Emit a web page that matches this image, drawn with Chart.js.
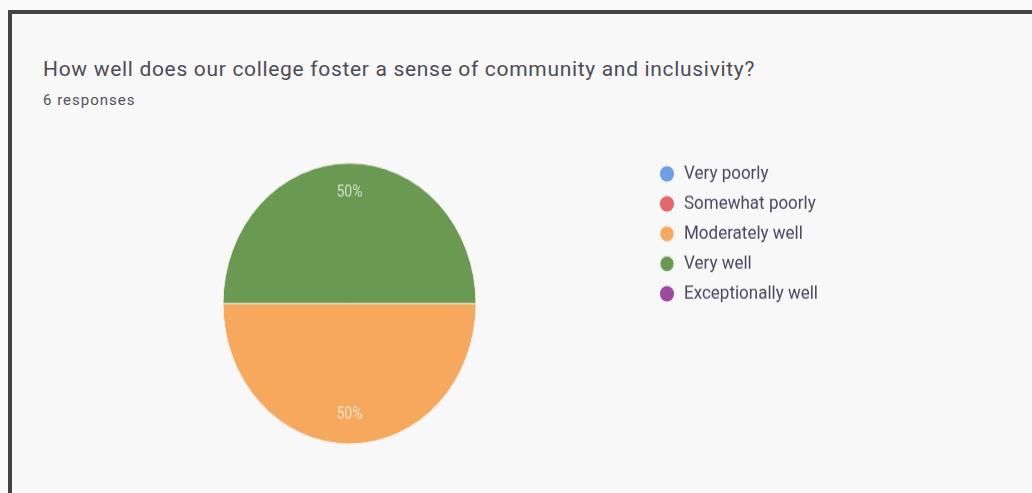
<!DOCTYPE html>
<html>
<head>
<meta charset="utf-8">
<script src="https://cdn.jsdelivr.net/npm/chart.js@4.4.1/dist/chart.umd.min.js"></script>
<style>
  html, body { margin: 0; padding: 0; background: #fafafa; }
  body { width: 1032px; height: 493px; position: relative; overflow: hidden; font-family: Roboto, Arial, sans-serif; }
  #card {
    position: absolute; left: 8px; top: 10px; width: 1040px; height: 500px;
    border-top: 4px solid #444; border-left: 4px solid #444;
    background: #f8f8f8;
  }
  #title { position: absolute; left: 43px; top: 57px; font-size: 21px; letter-spacing: 0.68px; color: #4e4b57; white-space: nowrap; }
  #subtitle { position: absolute; left: 43px; top: 91px; font-size: 15px; letter-spacing: 1px; color: #55525c; }
  #wrap {
    position: absolute; left: 30px; top: 150px; width: 820px; height: 280px;
    transform: scaleY(1.11); transform-origin: 0 0;
  }
</style>
</head>
<body>
<div id="card"></div>
<div id="title">How well does our college foster a sense of community and inclusivity?</div>
<div id="subtitle">6 responses</div>
<div id="wrap"><canvas id="pie"></canvas></div>
<script>
// categories and counts (6 responses)
var categories = ['Very poorly', 'Somewhat poorly', 'Moderately well', 'Very well', 'Exceptionally well'];
var responses = [0, 0, 3, 3, 0];
var sliceColors = ['#6b9fe6', '#e4676a', '#f6a85c', '#6a9a52', '#9b4a9e'];

// draw "50%" style labels inside each slice
var sliceLabels = {
  id: 'sliceLabels',
  afterDatasetsDraw: function(chart) {
    var ctx = chart.ctx;
    var meta = chart.getDatasetMeta(0);
    var total = responses.reduce(function(a, b) { return a + b; }, 0);
    ctx.save();
    ctx.font = '14px Roboto, Arial, sans-serif';
    ctx.fillStyle = 'rgba(255,255,255,0.72)';
    ctx.textAlign = 'center';
    ctx.textBaseline = 'middle';
    meta.data.forEach(function(arc, i) {
      if (!responses[i]) return;
      var mid = (arc.startAngle + arc.endAngle) / 2;
      var r = arc.outerRadius * 0.79;
      var pct = Math.round(responses[i] / total * 100) + '%';
      ctx.fillText(pct, arc.x + Math.cos(mid) * r, arc.y + Math.sin(mid) * r);
    });
    ctx.restore();
  }
};

var ctx = document.getElementById('pie').getContext('2d');
var pieChart = new Chart(ctx, {
  type: 'pie',
  data: {
    labels: categories,
    datasets: [{
      data: responses,
      backgroundColor: sliceColors,
      borderColor: '#f4efe6',
      borderWidth: [0, 0, 1, 1, 0],
      radius: 126.5
    }]
  },
  options: {
    responsive: true,
    maintainAspectRatio: false,
    animation: false,
    rotation: 90,
    layout: { padding: { left: 20.5, right: 22, top: 3, bottom: 6.4 } },
    plugins: {
      legend: {
        position: 'right',
        align: 'start',
        labels: {
          usePointStyle: true,
          pointStyle: 'circle',
          boxWidth: 18,
          boxHeight: 10,
          padding: 10,
          color: '#4b4760',
          font: { family: 'Roboto, Arial, sans-serif', size: 17 }
        }
      },
      tooltip: { enabled: false }
    }
  },
  plugins: [sliceLabels]
});
</script>
</body>
</html>
